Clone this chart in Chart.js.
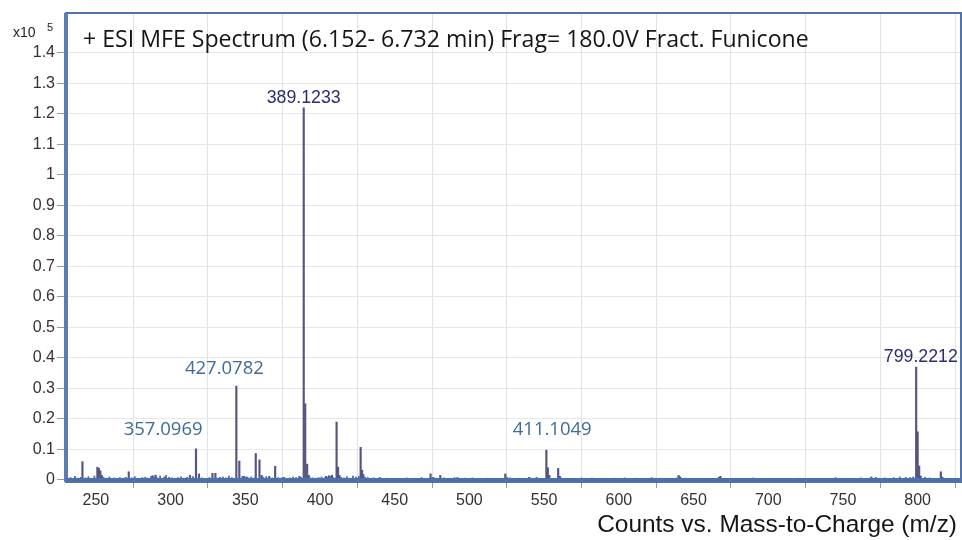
<!DOCTYPE html>
<html><head><meta charset="utf-8">
<script src="https://cdn.jsdelivr.net/npm/chart.js@4.4.0/dist/chart.umd.min.js"></script>
<style>html,body{margin:0;padding:0;background:#fff;}#wrap{position:relative;width:962px;height:540px;}</style>
</head><body><div id="wrap"><canvas id="c" width="962" height="540"></canvas></div>
<script>
// ---- data (m/z, counts) ----
const peakMz = [241,251,252,253,254,272,288,290,296,313,317,319,328,330,344,346,349,351,357,359.5,361,366,370,375,387,389.1,390.1,391.4,392.5,404,406,408,411.1,412.1,413,427.2,428.2,429,474,475.5,480.5,492,524,525,540,551.5,552.5,553.5,559.4,560.5,640,641,667,668,769,799,800,801,802,815.5,816.5];
const peakCounts = [6000,4200,3800,3000,1500,2700,1400,1600,1000,1500,10200,2000,2200,2200,30800,6200,1200,1000,8700,6600,1500,1200,4500,800,1000,122000,25000,5200,1500,1200,1400,1600,19000,4200,1500,10700,3200,1800,2000,800,1500,800,2000,800,900,9800,4000,1500,3800,1200,1500,1000,900,1200,1000,37000,15800,4600,1300,2700,1000];
const noiseMz = [233,236,238,240,243,245,247,249,255,257,259,262,264,266,268,270,274,276,279,281,283,285,287,289,291,293,295,297,299,301,303,305,307,309,311,315,321,323,326,331,333,335,337,339,341,348,350,352,354,356,362,364,368,372,374,376,378,380,382,384,386,393,395,397,399,401,403,405,407,409,414,416,418,420,422,424,426,430,432,434,436,440,445,452,458,463,468,476,478,483,487,490,497,502,507,512,517,527,533,537,542,545,555,562,568,575,582,590,597,604,611,617,622,628,633,639,645,652,660,666,669,676,690,720,745,762,768,772,778,784,788,792,795,797,805,808,811,818,821,824];
const noiseCounts = [800,1200,600,900,700,1100,500,1300,900,600,1000,700,500,800,600,900,700,1100,500,800,900,600,1200,1000,700,1300,600,1500,900,700,500,800,1000,600,900,1100,700,500,800,600,900,1000,700,1300,800,1200,900,700,1000,600,900,1100,700,800,600,900,500,700,1000,800,1200,900,700,600,800,1000,700,900,1200,800,900,700,1100,600,1300,1000,1200,900,800,600,700,900,600,500,700,600,800,900,600,700,500,800,600,700,500,600,500,700,600,500,600,900,500,600,500,700,600,500,600,700,600,500,800,600,500,700,600,500,400,500,400,500,700,600,800,700,600,900,700,800,1000,900,800,1000,900,700];
const xTicks = [250,300,350,400,450,500,550,600,650,700,750,800];
const yTicks = [0,10000,20000,30000,40000,50000,60000,70000,80000,90000,100000,110000,120000,130000,140000];
const labelTexts = ['389.1233','799.2212','427.0782','357.0969','411.1049'];
const labelMz = [389.1,802.1,336.0,295.0,555.4];
const labelCounts = [123600,38700,34750,14750,14750];
const titleText = '+ ESI MFE Spectrum (6.152- 6.732 min) Frag= 180.0V Fract. Funicone';
const xAxisTitle = 'Counts vs. Mass-to-Charge (m/z)';
const yUnitText = 'x10';
const yUnitExp = '5';

const peakColor = '#55557f';

function fitSize(ctx, text, family, weight, target){
  ctx.font = weight + ' 20px ' + family;
  return 20 * target / ctx.measureText(text).width;
}

const decor = {
  id: 'decor',
  afterDatasetsDraw(chart){
    const {ctx, chartArea:a} = chart;
    ctx.save();
    ctx.strokeStyle = '#4f74ae';
    ctx.lineWidth = 2;
    ctx.strokeRect(a.left, a.top, a.right - a.left, a.bottom - a.top);
    ctx.fillStyle = '#5a7db5';
    ctx.fillRect(a.left - 2, a.top, 4, a.bottom - a.top);
    ctx.fillStyle = '#4c6fae';
    ctx.fillRect(a.left, a.bottom - 4, a.right - a.left, 4);
    ctx.restore();
  },
  afterDraw(chart){
    const {ctx, scales:{x, y}} = chart;
    ctx.save();
    ctx.textBaseline = 'alphabetic';
    // title
    let s = fitSize(ctx, titleText, '"Open Sans"', '400', 726);
    ctx.font = '400 ' + s + 'px "Open Sans"';
    ctx.fillStyle = '#161616';
    ctx.textAlign = 'left';
    ctx.fillText(titleText, 83, 47);
    // y unit
    ctx.font = '400 14px "Liberation Sans"';
    ctx.fillStyle = '#222';
    ctx.fillText(yUnitText, 13, 37);
    ctx.font = '400 11px "Liberation Sans"';
    ctx.fillText(yUnitExp, 47, 31);
    // x axis title
    s = fitSize(ctx, xAxisTitle, '"Liberation Sans"', '400', 360);
    ctx.font = '400 ' + s + 'px "Liberation Sans"';
    ctx.fillStyle = '#161616';
    ctx.textAlign = 'right';
    ctx.fillText(xAxisTitle, 957, 532);
    // peak labels
    ctx.textAlign = 'center';
    labelTexts.forEach((t, i) => {
      const navy = (i < 2);
      const fam = navy ? '"Liberation Sans"' : '"Open Sans"';
      const target = navy ? 74 : 79;
      const sz = fitSize(ctx, t, fam, '400', target);
      ctx.font = '400 ' + sz + 'px ' + fam;
      ctx.fillStyle = navy ? '#2c2c70' : '#3f6b98';
      ctx.fillText(t, x.getPixelForValue(labelMz[i]), y.getPixelForValue(labelCounts[i]));
    });
    ctx.restore();
  }
};

new Chart(document.getElementById('c'), {
  type: 'bar',
  data: {
    datasets: [
      {data: noiseMz.map((m, i) => ({x: m, y: noiseCounts[i]})), backgroundColor: '#5a6a9a', barThickness: 1.2, grouped: false},
      {data: peakMz.map((m, i) => ({x: m, y: peakCounts[i]})), backgroundColor: peakColor, barThickness: 1.5, grouped: false}
    ]
  },
  options: {
    responsive: false,
    animation: false,
    devicePixelRatio: 1,
    layout: {padding: {top: 13, right: 1, left: 0, bottom: 0}},
    plugins: {legend: {display: false}, tooltip: {enabled: false}},
    scales: {
      x: {
        type: 'linear', min: 230, max: 829, offset: false,
        afterBuildTicks: s => { s.ticks = xTicks.map(v => ({value: v})); },
        afterFit: s => { s.height = 58; },
        border: {display: false},
        grid: {color: '#e2e2e2', tickColor: '#999', tickLength: 6},
        ticks: {autoSkip: false, maxRotation: 0, padding: 3, color: '#333', font: {family: 'Liberation Sans', size: 16}}
      },
      y: {
        min: -656, max: 153100,
        afterBuildTicks: s => { s.ticks = yTicks.map(v => ({value: v})); },
        afterFit: s => { s.width = 66; },
        border: {display: false},
        grid: {color: '#e8e8e8', tickColor: '#999', tickLength: 9},
        ticks: {padding: 2, color: '#333', font: {family: 'Liberation Sans', size: 16},
          callback: v => String(+(v / 1e5).toFixed(1))}
      }
    }
  },
  plugins: [decor]
});
</script></body></html>
